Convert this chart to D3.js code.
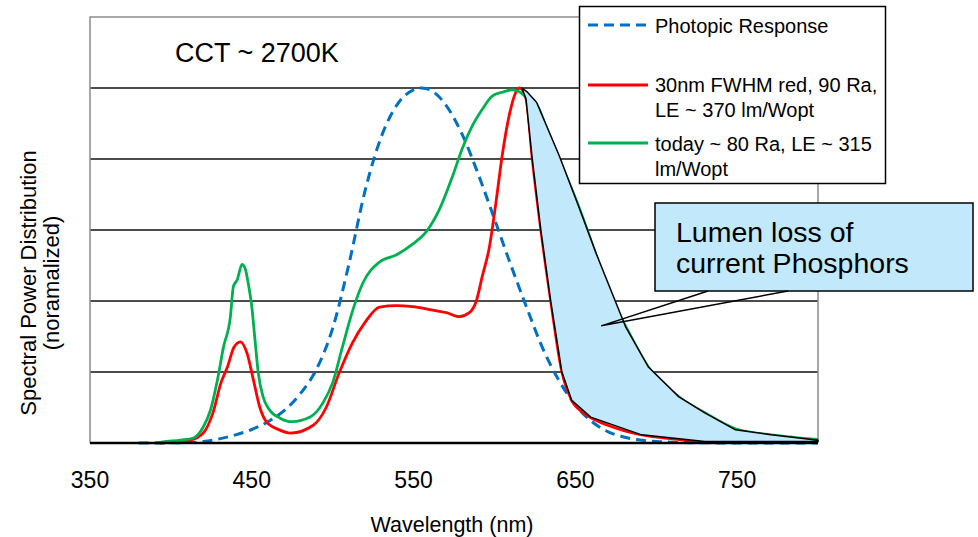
<!DOCTYPE html>
<html>
<head>
<meta charset="utf-8">
<script src="https://cdn.jsdelivr.net/npm/d3@7"></script>
<style>
  html, body { margin: 0; padding: 0; background: #fff; }
  svg { display: block; font-family: "Liberation Sans", Arial, sans-serif; }
</style>
</head>
<body>
<svg id="chart" width="978" height="537"></svg>
<script>
// ---------- data ----------
const xTicks = [350, 450, 550, 650, 750];
const yGrid = [0.2, 0.4, 0.6, 0.8, 1.0];

// CIE photopic response V(lambda)
const photopicNm = [380,390,400,410,420,430,440,450,460,470,480,490,500,510,520,530,540,550,555,560,570,580,590,600,610,620,630,640,650,660,670,680,690,700,710,720,730,740,750,760,770,780,790,800];
const photopicV  = [0.00004,0.00012,0.0004,0.0012,0.004,0.0116,0.023,0.038,0.06,0.091,0.139,0.208,0.323,0.503,0.71,0.862,0.954,0.995,1.0,0.995,0.952,0.870,0.757,0.631,0.503,0.381,0.265,0.175,0.107,0.061,0.032,0.017,0.0082,0.0041,0.0021,0.00105,0.00052,0.00025,0.00012,0.00006,0.00003,0.000015,0,0];

// 30nm FWHM red, 90 Ra
const redNm = [393,405,412,420,426,431,435,439,443,447,451,455,459,467,474,488,496,504,512,520,529,539.5,549.4,559.8,570.3,578.3,584.5,588.8,592.5,596.8,601,604.8,609,613.4,615.5,619.5,623.4,628.7,634.8,641.7,647.8,655,660,670,680,691,710,730,760,800];
const redV  = [0.0,0.004,0.008,0.028,0.085,0.17,0.215,0.27,0.285,0.254,0.178,0.10,0.06,0.037,0.028,0.05,0.10,0.197,0.28,0.34,0.383,0.387,0.384,0.376,0.367,0.356,0.367,0.40,0.47,0.55,0.68,0.81,0.92,0.99,1.0,0.97,0.80,0.60,0.40,0.20,0.12,0.085,0.07,0.05,0.035,0.023,0.012,0.005,0.004,0.004];

// today ~ 80 Ra
const greenNm = [391,395,406,414,420,424.5,428.8,432.5,436.8,438.6,441,444,446,447.8,450,452,454,457,461,467.5,475,486,494,500,506,512.5,518.6,529,539.5,549.4,558,566,574,580,586.3,592.5,598.6,604.8,611,615,619.5,626,632,640,652,662,670,681,695,714,730,749,771,785,800];
const greenV  = [0.0,0.003,0.008,0.014,0.045,0.093,0.178,0.27,0.356,0.44,0.46,0.503,0.49,0.45,0.384,0.29,0.198,0.13,0.093,0.07,0.06,0.073,0.113,0.17,0.27,0.375,0.45,0.51,0.53,0.56,0.596,0.658,0.75,0.828,0.893,0.94,0.977,0.988,0.995,0.99,0.975,0.955,0.89,0.80,0.667,0.54,0.43,0.33,0.215,0.13,0.085,0.04,0.023,0.016,0.01];

// Lumen-loss region outline
const lossUpperNm = [617,620,626,640,652,662.6,681,695,714,730,749,771,800];
const lossUpperV  = [1.0,0.99,0.96,0.81,0.667,0.537,0.328,0.215,0.13,0.085,0.037,0.023,0.008];
const lossLowerNm = [617,619.5,623.4,628.7,634.8,641.7,647.8,659.5,691,730,800];
const lossLowerV  = [1.0,0.97,0.80,0.60,0.40,0.20,0.12,0.073,0.023,0.004,0.005];

const calloutTip = {nm: 666, v: 0.33};

// ---------- layout ----------
const svg = d3.select("#chart");
const x = d3.scaleLinear().domain([350, 800]).range([90, 818]);
const y = d3.scaleLinear().domain([0, 1.2]).range([443, 17]);

const zip = (a, b) => a.map((d, i) => [d, b[i]]);

// gridlines
svg.append("g").selectAll("line").data(yGrid).join("line")
  .attr("x1", x(350)).attr("x2", x(800))
  .attr("y1", d => y(d)).attr("y2", d => y(d))
  .attr("stroke", "#111").attr("stroke-width", 1.5);

// plot border (gray)
svg.append("path")
  .attr("d", `M${x(350)},${y(0)}V${y(1.2)}H${x(800)}V${y(0)}`)
  .attr("fill", "none").attr("stroke", "#8c8c8c").attr("stroke-width", 1.5);

const line = d3.line().x(d => x(d[0])).y(d => y(d[1])).curve(d3.curveMonotoneX);

// photopic
svg.append("path").datum(zip(photopicNm, photopicV))
  .attr("d", line).attr("fill", "none")
  .attr("stroke", "#0070C0").attr("stroke-width", 3).attr("stroke-dasharray", "10,6");

// red
svg.append("path").datum(zip(redNm, redV))
  .attr("d", line).attr("fill", "none")
  .attr("stroke", "#FF0000").attr("stroke-width", 2.8).attr("stroke-linejoin", "round");

// green
svg.append("path").datum(zip(greenNm, greenV))
  .attr("d", line).attr("fill", "none")
  .attr("stroke", "#00B050").attr("stroke-width", 2.8).attr("stroke-linejoin", "round");

// loss area
const lossPts = zip(lossUpperNm, lossUpperV).concat(zip(lossLowerNm, lossLowerV).reverse());
svg.append("path").datum(lossPts)
  .attr("d", d3.line().x(d => x(d[0])).y(d => y(d[1])).curve(d3.curveLinearClosed))
  .attr("fill", "#C1E9FB").attr("stroke", "#000").attr("stroke-width", 1.5)
  .attr("stroke-linejoin", "round");

// x axis baseline
svg.append("line")
  .attr("x1", x(350)).attr("x2", x(800)).attr("y1", y(0)).attr("y2", y(0))
  .attr("stroke", "#000").attr("stroke-width", 2.5);

// x tick labels
svg.append("g").selectAll("text").data(xTicks).join("text")
  .attr("x", d => x(d)).attr("y", 488)
  .attr("text-anchor", "middle").attr("font-size", 23).attr("fill", "#000")
  .text(d => d);

// axis titles
svg.append("text").attr("x", (x(350) + x(800)) / 2 - 2).attr("y", 532)
  .attr("text-anchor", "middle").attr("font-size", 21.5).text("Wavelength (nm)");

const yt = svg.append("text").attr("transform", "translate(36,283) rotate(-90)")
  .attr("text-anchor", "middle").attr("font-size", 22);
yt.append("tspan").attr("x", 0).attr("y", 0).text("Spectral Power Distribution");
yt.append("tspan").attr("x", 0).attr("y", 23).text("(noramalized)");

// CCT label
svg.append("text").attr("x", 175).attr("y", 62).attr("font-size", 27).text("CCT ~ 2700K");

// legend
const lg = svg.append("g");
lg.append("rect").attr("x", 579.5).attr("y", 6.5).attr("width", 306).attr("height", 177)
  .attr("fill", "#fff").attr("stroke", "#000").attr("stroke-width", 1.5);
const legendItems = [
  {color: "#0070C0", dash: "10,6", ly: 25, lines: ["Photopic Response"], ty: 33},
  {color: "#FF0000", dash: null, ly: 85, lines: ["30nm FWHM red, 90 Ra,", "LE ~ 370 lm/Wopt"], ty: 92},
  {color: "#00B050", dash: null, ly: 143, lines: ["today ~ 80 Ra, LE ~ 315", "lm/Wopt"], ty: 151}
];
legendItems.forEach(it => {
  lg.append("line").attr("x1", 588).attr("x2", 648).attr("y1", it.ly).attr("y2", it.ly)
    .attr("stroke", it.color).attr("stroke-width", 3).attr("stroke-dasharray", it.dash);
  const t = lg.append("text").attr("font-size", 20).attr("fill", "#000");
  it.lines.forEach((s, i) => t.append("tspan").attr("x", 655).attr("y", it.ty + i * 24.5).text(s));
});

// callout
const cg = svg.append("g");
const tipX = x(calloutTip.nm), tipY = y(calloutTip.v);
cg.append("rect").attr("x", 655).attr("y", 203).attr("width", 318).attr("height", 88)
  .attr("fill", "#C1E9FB").attr("stroke", "#000").attr("stroke-width", 1.5);
cg.append("path")
  .attr("d", `M708,291L${tipX},${tipY}L788,291`)
  .attr("fill", "none").attr("stroke", "#000").attr("stroke-width", 1.5);
const ct = cg.append("text").attr("font-size", 28.5).attr("fill", "#000");
ct.append("tspan").attr("x", 676).attr("y", 242).text("Lumen loss of");
ct.append("tspan").attr("x", 676).attr("y", 273).text("current Phosphors");
</script>
</body>
</html>
